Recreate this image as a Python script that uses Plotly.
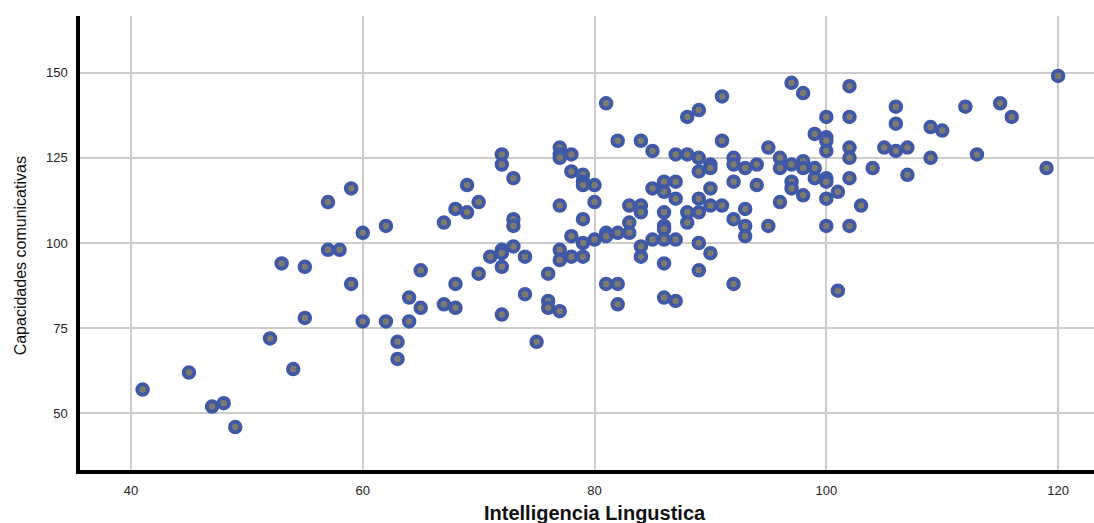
import plotly.graph_objects as go

# Intelligencia Lingustica (x) and Capacidades comunicativas (y)
intel_ling = [
    41, 45, 47, 48, 49, 52, 53, 54, 55, 55, 57, 57, 58, 59, 59, 60, 60, 62, 62, 63,
    63, 64, 64, 65, 65, 67, 67, 68, 68, 68, 69, 69, 70, 70, 71, 72, 72, 72, 72, 72,
    72, 73, 73, 73, 73, 74, 74, 75, 76, 76, 76, 77, 77, 77, 77, 77, 77, 77, 78, 78,
    78, 78, 79, 79, 79, 79, 79, 79, 80, 80, 80, 81, 81, 81, 81, 82, 82, 82, 82, 83,
    83, 83, 84, 84, 84, 84, 84, 85, 85, 85, 86, 86, 86, 86, 86, 86, 86, 86, 87, 87,
    87, 87, 87, 88, 88, 88, 88, 89, 89, 89, 89, 89, 89, 89, 90, 90, 90, 90, 90, 91,
    91, 91, 92, 92, 92, 92, 92, 93, 93, 93, 93, 94, 94, 95, 95, 96, 96, 96, 97, 97,
    97, 97, 98, 98, 98, 98, 99, 99, 99, 100, 100, 100, 100, 100, 100, 100, 100, 101,
    101, 102, 102, 102, 102, 102, 102, 103, 104, 105, 106, 106, 106, 107, 107, 109,
    109, 110, 112, 113, 115, 116, 119, 120,
]
cap_com = [
    57, 62, 52, 53, 46, 72, 94, 63, 93, 78, 112, 98, 98, 116, 88, 103, 77, 105, 77, 71,
    66, 84, 77, 92, 81, 106, 82, 110, 88, 81, 109, 117, 112, 91, 96, 126, 123, 98, 97, 93,
    79, 119, 107, 105, 99, 96, 85, 71, 91, 83, 81, 128, 126, 125, 111, 98, 95, 80, 126, 121,
    102, 96, 120, 118, 117, 107, 100, 96, 117, 112, 101, 141, 103, 102, 88, 130, 103, 88, 82, 111,
    106, 103, 130, 111, 109, 99, 96, 127, 116, 101, 118, 115, 109, 105, 104, 101, 94, 84, 126, 118,
    113, 101, 83, 137, 126, 109, 106, 139, 125, 121, 113, 109, 100, 92, 123, 122, 116, 111, 97, 143,
    130, 111, 125, 123, 118, 107, 88, 122, 110, 105, 102, 123, 117, 128, 105, 125, 122, 112, 147, 123,
    118, 116, 144, 124, 122, 114, 132, 122, 119, 137, 131, 130, 127, 119, 118, 113, 105, 115,
    86, 146, 137, 128, 125, 119, 105, 111, 122, 128, 140, 135, 127, 128, 120, 134,
    125, 133, 140, 126, 141, 137, 122, 149,
]

x_ticks = [40, 60, 80, 100, 120]
y_ticks = [50, 75, 100, 125, 150]
x_title = "Intelligencia Lingustica"
y_title = "Capacidades comunicativas"

fig = go.Figure()
fig.add_trace(go.Scatter(
    x=intel_ling, y=cap_com, mode="markers",
    marker=dict(symbol="circle", size=10.5, color="#7d7b6c",
                line=dict(color="#3f58a8", width=4)),
    hoverinfo="x+y", showlegend=False,
))

tick_font = dict(family="Liberation Sans, Arial, sans-serif", size=13, color="#222222")

fig.update_layout(
    width=1094, height=523,
    margin=dict(l=80, r=0, t=16, b=53),
    paper_bgcolor="white", plot_bgcolor="white",
    xaxis=dict(range=[35.6, 123.1], tickvals=x_ticks, ticktext=[str(v) for v in x_ticks],
               showgrid=True, gridcolor="#cccccc", gridwidth=1.5, zeroline=False,
               showline=True, linecolor="black", linewidth=3.5, ticks="",
               ticklabelstandoff=6, tickfont=tick_font),
    yaxis=dict(range=[33.4, 166.6], tickvals=y_ticks, ticktext=[str(v) for v in y_ticks],
               showgrid=True, gridcolor="#cccccc", gridwidth=1.5, zeroline=False,
               showline=True, linecolor="black", linewidth=3.5, ticks="",
               ticklabelstandoff=6, tickfont=tick_font),
    annotations=[
        dict(text=x_title, xref="paper", yref="paper", x=0.508, y=-0.095,
             xanchor="center", yanchor="middle", showarrow=False,
             font=dict(family="Liberation Sans, Arial, sans-serif", size=20,
                       color="#111111", weight="bold")),
        dict(text=y_title, xref="paper", yref="paper", x=-0.059, y=0.471,
             xanchor="center", yanchor="middle", textangle=-90, showarrow=False,
             font=dict(family="Liberation Sans, Arial, sans-serif",
                       size=16, color="#111111")),
    ],
)

# remove the page's default body margin so the figure fills the window exactly
fig.write_html(
    "out.html",
    config={"displayModeBar": False},
    post_script="document.body.style.margin='0';document.body.style.overflow='hidden';",
)
